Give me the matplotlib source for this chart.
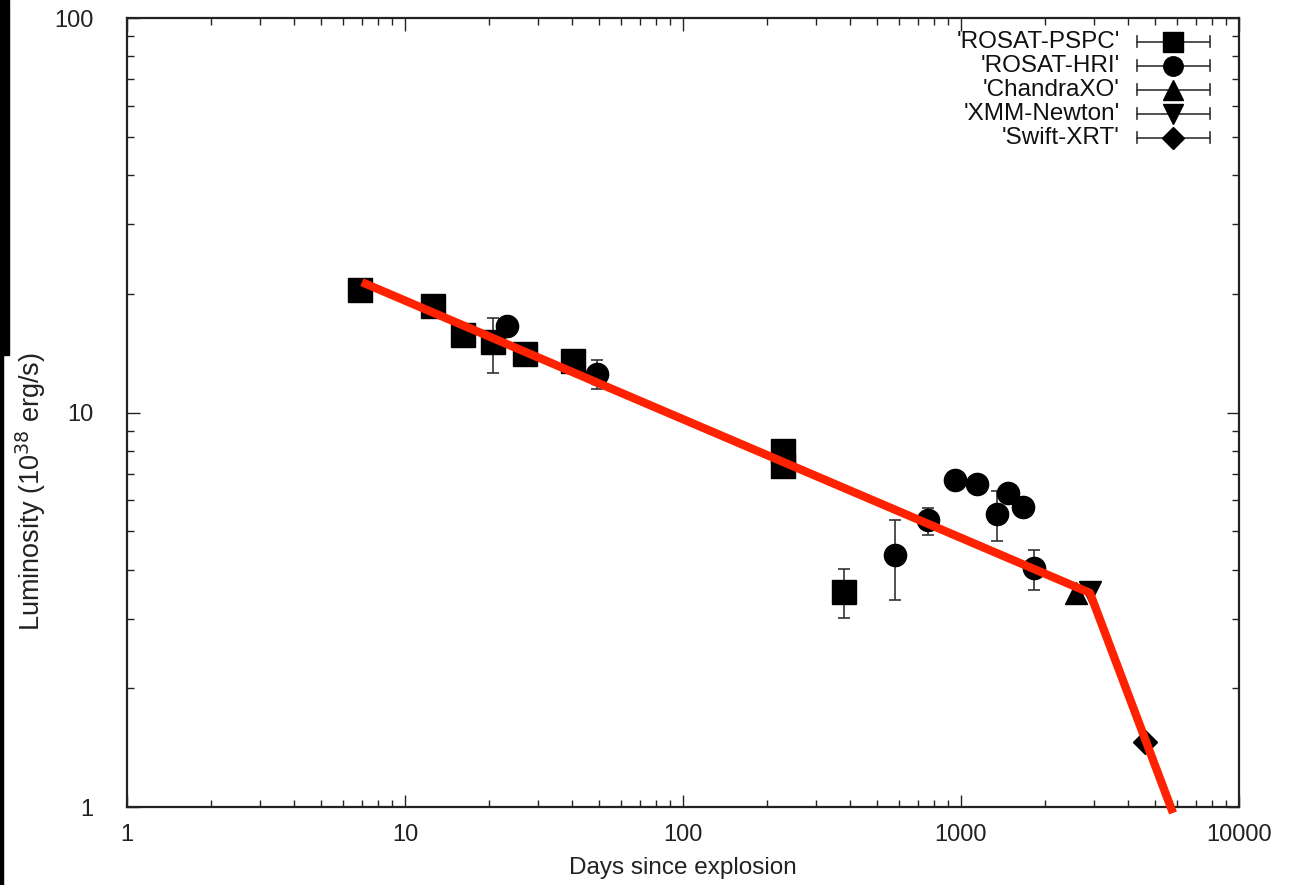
import matplotlib
matplotlib.use("Agg")
import matplotlib.pyplot as plt
from matplotlib.patches import Rectangle
from matplotlib.ticker import LogLocator, NullFormatter, FixedLocator, FixedFormatter

plt.rcParams.update({
    "font.family": ["Liberation Sans", "DejaVu Sans"],
    "font.size": 16,
})

# --- Data (days since explosion, luminosity in 1e38 erg/s) ---
pspc_days = [6.9, 12.6, 16.2, 20.7, 27.0, 40.2, 229, 229, 379]
pspc_lum = [20.5, 18.6, 15.7, 15.1, 14.1, 13.5, 8.0, 7.3, 3.51]
pspc_err_lo = [0, 0, 0, 2.5, 0, 0, 0, 0, 0.50]
pspc_err_hi = [0, 0, 0, 2.3, 0, 0, 0, 0, 0.50]

hri_days = [23.3, 49.1, 579, 761, 951, 1142, 1347, 1476, 1671, 1832]
hri_lum = [16.6, 12.5, 4.35, 5.34, 6.74, 6.59, 5.53, 6.25, 5.76, 4.04]
hri_err_lo = [0, 1.0, 1.00, 0.45, 0, 0, 0.81, 0, 0, 0.49]
hri_err_hi = [0, 1.1, 0.99, 0.39, 0, 0, 0.79, 0, 0, 0.44]

chandra_days = [2594]
chandra_lum = [3.49]

xmm_days = [2911]
xmm_lum = [3.50]

swift_days = [4590]
swift_lum = [1.46]

# broken power-law fit (red line)
fit_days = [7.0, 2910, 5790]
fit_lum = [21.4, 3.49, 0.966]

labels = ["'ROSAT-PSPC'", "'ROSAT-HRI'", "'ChandraXO'", "'XMM-Newton'", "'Swift-XRT'"]
markers = ["s", "o", "^", "v", "D"]
msizes = [15, 14, 14, 14, 11]

fig = plt.figure(figsize=(12.93, 8.85), dpi=100)
ax = fig.add_axes([0.0982, 0.0881, 0.860, 0.8915])

ebar_kw = dict(ls="none", ecolor="#333333", elinewidth=1.2, capsize=4.5, capthick=1.2,
               color="black", mec="black", zorder=3)

ax.errorbar(pspc_days, pspc_lum, yerr=[pspc_err_lo, pspc_err_hi], marker="s", ms=17, **ebar_kw)
ax.errorbar(hri_days, hri_lum, yerr=[hri_err_lo, hri_err_hi], marker="o", ms=16, **ebar_kw)
ax.plot(chandra_days, chandra_lum, "^", color="black", ms=16, zorder=3)
ax.plot(xmm_days, xmm_lum, "v", color="black", ms=16, zorder=3)
ax.plot(swift_days, swift_lum, "D", color="black", ms=12, zorder=3)

ax.plot(fit_days, fit_lum, color="#ff2200", lw=6, zorder=4, clip_on=False,
        solid_capstyle="butt")

ax.set_xscale("log")
ax.set_yscale("log")
ax.set_xlim(1, 10000)
ax.set_ylim(1, 100)

ax.xaxis.set_major_locator(FixedLocator([1, 10, 100, 1000, 10000]))
ax.xaxis.set_major_formatter(FixedFormatter(["1", "10", "100", "1000", "10000"]))
ax.yaxis.set_major_locator(FixedLocator([1, 10, 100]))
ax.yaxis.set_major_formatter(FixedFormatter(["1", "10", "100"]))
ax.xaxis.set_minor_locator(LogLocator(base=10, subs=range(2, 10)))
ax.yaxis.set_minor_locator(LogLocator(base=10, subs=range(2, 10)))
ax.xaxis.set_minor_formatter(NullFormatter())
ax.yaxis.set_minor_formatter(NullFormatter())

ax.tick_params(which="both", direction="in", top=True, right=True, colors="#222222",
               labelsize=17)
ax.tick_params(axis="x", which="major", pad=12)
ax.tick_params(axis="y", which="major", pad=24)
ax.tick_params(which="major", length=9, width=1)
ax.tick_params(which="minor", length=5, width=1)
for s in ax.spines.values():
    s.set_linewidth(1.6)
    s.set_color("#222222")

ax.set_xlabel("Days since explosion", fontsize=17.5, labelpad=8, color="#222222")
ax.set_ylabel(r"Luminosity (10$^{38}$ erg/s)", fontsize=19.5, color="#222222")
ax.yaxis.set_label_coords(-0.071, 0.40)

# gnuplot-style key, drawn by hand in axes fraction
for i, (lab, mk, ms) in enumerate(zip(labels, markers, msizes)):
    yk = 0.970 - i * 0.0304
    ax.text(0.893, yk, lab, transform=ax.transAxes, ha="right", va="center",
            fontsize=17.5, color="#111111")
    ax.plot([0.908, 0.974], [yk, yk], transform=ax.transAxes, color="#333333", lw=1.2)
    for xc in (0.908, 0.974):
        ax.plot([xc, xc], [yk - 0.007, yk + 0.007], transform=ax.transAxes,
                color="#333333", lw=1.2)
    ax.plot([0.941], [yk], mk, transform=ax.transAxes, color="black", ms=ms)

# dark strip along the left edge of the original scan
fig.patches.append(Rectangle((0, 1 - 355 / 885), 9 / 1293, 355 / 885,
                             transform=fig.transFigure, color="black", zorder=10))
fig.patches.append(Rectangle((0, 0), 3 / 1293, 1 - 355 / 885,
                             transform=fig.transFigure, color="black", zorder=10))

fig.savefig("out.png", dpi=100)
